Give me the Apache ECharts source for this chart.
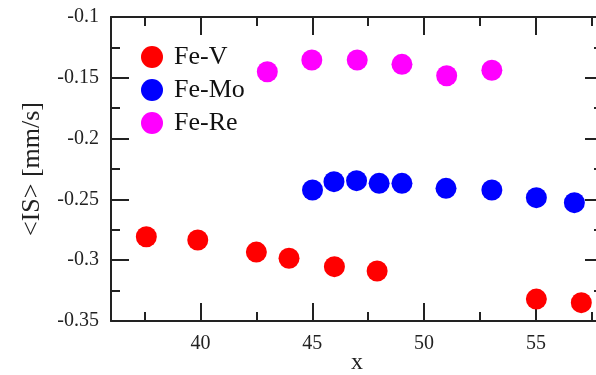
<!DOCTYPE html>
<html><head><meta charset="utf-8">
<script src="https://cdn.jsdelivr.net/npm/echarts@6/dist/echarts.min.js"></script>
<style>html,body{margin:0;padding:0;background:#fff}#c{width:596px;height:375px}</style>
</head><body><div id="c"></div>
<script>
const feV_x = [37.58, 39.88, 42.50, 43.96, 45.99, 47.90, 55.02, 57.03];
const feV_y = [-0.2807, -0.2834, -0.2933, -0.2984, -0.3053, -0.3089, -0.3320, -0.3349];
const feMo_x = [45.01, 45.97, 46.98, 47.99, 49.01, 50.98, 53.03, 55.02, 56.72];
const feMo_y = [-0.2423, -0.2354, -0.2346, -0.2368, -0.2368, -0.2409, -0.2423, -0.2486, -0.2527];
const feRe_x = [42.99, 44.98, 47.01, 49.01, 51.01, 53.03];
const feRe_y = [-0.1450, -0.1354, -0.1354, -0.1389, -0.1483, -0.1438];
const xMajorTicks = [40, 45, 50, 55];
const xMinorTicks = [37.5, 42.5, 47.5, 52.5, 57.5];
const seriesNames = ['Fe-V', 'Fe-Mo', 'Fe-Re'];

const FONT = 'Liberation Serif';
const AX = '#222';
const pair = (xs, ys) => xs.map((x, i) => [x, ys[i]]);

function xAx(pos, ticks, len, labels, line, name) {
  return {
    type: 'value', position: pos, min: 36, max: 58,
    axisLine: { show: line, onZero: false, lineStyle: { color: AX, width: 2 } },
    axisTick: { show: true, inside: true, length: len, customValues: ticks, lineStyle: { color: AX, width: 2 } },
    axisLabel: { show: labels, customValues: ticks, margin: 13, color: '#222', fontFamily: FONT, fontSize: 20 },
    splitLine: { show: false },
    name: name || '', nameLocation: 'middle', nameGap: 30, nameMoveOverlap: false,
    nameTextStyle: { fontFamily: FONT, fontSize: 24, color: '#222' }
  };
}
function yAx(pos, labels, name) {
  return {
    type: 'value', position: pos, min: -0.35, max: -0.1, interval: 0.05,
    axisLine: { show: true, onZero: false, lineStyle: { color: AX, width: 2 } },
    axisTick: { show: true, inside: true, length: 18, lineStyle: { color: AX, width: 2 } },
    minorTick: { show: true, splitNumber: 2, length: 9, lineStyle: { color: AX, width: 2 } },
    axisLabel: { show: labels, margin: 12, color: '#222', fontFamily: FONT, fontSize: 20 },
    splitLine: { show: false }, minorSplitLine: { show: false },
    name: name || '', nameLocation: 'middle', nameGap: 66, nameMoveOverlap: false,
    nameTextStyle: { fontFamily: FONT, fontSize: 26, color: '#222' }
  };
}

const chart = echarts.init(document.getElementById('c'), null, { renderer: 'canvas' });
chart.setOption({
  animation: false,
  backgroundColor: '#fff',
  grid: { left: 111, top: 17, right: -7, bottom: 54, containLabel: false, outerBoundsMode: 'none' },
  legend: {
    orient: 'vertical', left: 141, top: 44, padding: 0,
    itemWidth: 34, itemHeight: 22, itemGap: 7, icon: 'circle',
    textStyle: { fontFamily: FONT, fontSize: 26, color: '#111' },
    data: seriesNames
  },
  xAxis: [
    xAx('bottom', xMajorTicks, 18, true, true, 'x'),
    xAx('bottom', xMinorTicks, 9, false, false),
    xAx('top', xMajorTicks, 18, false, true),
    xAx('top', xMinorTicks, 9, false, false)
  ],
  yAxis: [
    yAx('left', true, '<IS> [mm/s]'),
    yAx('right', false)
  ],
  series: [
    { name: seriesNames[0], type: 'scatter', symbolSize: 21, itemStyle: { color: '#ff0000', opacity: 1 }, data: pair(feV_x, feV_y) },
    { name: seriesNames[1], type: 'scatter', symbolSize: 21, itemStyle: { color: '#0000ff', opacity: 1 }, data: pair(feMo_x, feMo_y) },
    { name: seriesNames[2], type: 'scatter', symbolSize: 21, itemStyle: { color: '#ff00ff', opacity: 1 }, data: pair(feRe_x, feRe_y) }
  ]
});
</script></body></html>
